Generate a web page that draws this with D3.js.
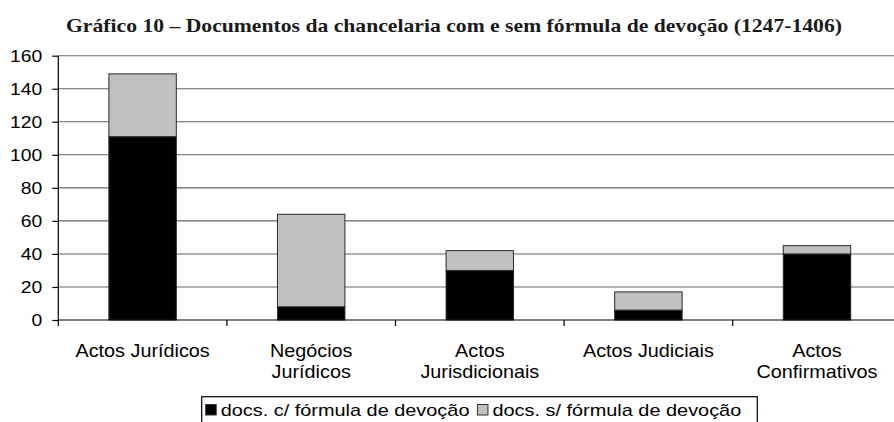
<!DOCTYPE html>
<html>
<head>
<meta charset="utf-8">
<script src="https://cdn.jsdelivr.net/npm/d3@7"></script>
<style>
  html, body { margin: 0; padding: 0; background: #fff; overflow: hidden; }
  svg { display: block; }
</style>
</head>
<body>
<svg id="chart" width="894" height="422"></svg>
<script>
// Chart data
const titleText = "Gráfico 10 – Documentos da chancelaria com e sem fórmula de devoção (1247-1406)";
const categories = ["Actos Jurídicos", "Negócios Jurídicos", "Actos Jurisdicionais", "Actos Judiciais", "Actos Confirmativos"];
const categoryLines = [["Actos Jurídicos"], ["Negócios", "Jurídicos"], ["Actos", "Jurisdicionais"], ["Actos Judiciais"], ["Actos", "Confirmativos"]];
const withFormula = [111, 8, 30, 6, 40];
const withoutFormula = [38, 56, 12, 11, 5];
const seriesNames = ["docs. c/ fórmula de devoção", "docs. s/ fórmula de devoção"];
const seriesKeys = ["com", "sem"];
const seriesColors = ["#000000", "#c0c0c0"];
const yTicks = [0, 20, 40, 60, 80, 100, 120, 140, 160];

const SANS = "Arial, 'Liberation Sans', sans-serif";
const SERIF = "'Times New Roman', 'Liberation Serif', serif";
const SX = 1.17; // horizontal widening applied to the labels

const svg = d3.select("#chart");

const rows = categories.map((c, i) => ({ cat: c, com: withFormula[i], sem: withoutFormula[i] }));

const x = d3.scaleBand().domain(categories).range([58.3, 901.3]).paddingInner(0.6).paddingOuter(0.3);
const y = d3.scaleLinear().domain([0, 160]).range([320, 55.7]);

// Title, stretched to span the page width
svg.append("text")
  .attr("x", 66).attr("y", 32)
  .attr("textLength", 776).attr("lengthAdjust", "spacingAndGlyphs")
  .attr("font-family", SERIF).attr("font-weight", "bold").attr("font-size", 19)
  .attr("fill", "#1a1a1a")
  .text(titleText);

// Horizontal gridlines
svg.append("g").selectAll("line").data(yTicks.filter(d => d > 0)).join("line")
  .attr("x1", 58.3).attr("x2", 894)
  .attr("y1", d => y(d)).attr("y2", d => y(d))
  .attr("stroke", "#666").attr("stroke-width", 1.1);

// Stacked bars
const stacked = d3.stack().keys(seriesKeys)(rows);
svg.append("g").selectAll("g").data(stacked).join("g")
  .attr("fill", (d, i) => seriesColors[i])
  .selectAll("rect").data(d => d).join("rect")
  .attr("x", d => x(d.data.cat))
  .attr("width", x.bandwidth())
  .attr("y", d => y(d[1]))
  .attr("height", d => y(d[0]) - y(d[1]))
  .attr("stroke", "#2a2a2a").attr("stroke-width", 1);

// Y axis
const yAxis = svg.append("g").attr("transform", "translate(58.3,0)")
  .call(d3.axisLeft(y).tickValues(yTicks).tickSize(6).tickPadding(0).tickFormat(d3.format("d")));
yAxis.select(".domain").attr("d", `M0,${y(160)}V${y(0) + 6}`).attr("stroke", "#000").attr("stroke-width", 1.2);
yAxis.selectAll(".tick line").attr("stroke", "#000").attr("stroke-width", 1.2);
yAxis.selectAll(".tick text")
  .attr("x", null).attr("dy", "0.36em")
  .attr("transform", `translate(-16,0) scale(${SX},1)`)
  .attr("font-family", SANS).attr("font-size", 16.5).attr("fill", "#000");

// X axis with ticks on category boundaries
const step = x.step();
const boundaries = categories.slice(0, -1).map(c => x(c) + x.bandwidth() + (step - x.bandwidth()) / 2);
const xAxis = svg.append("g").attr("transform", `translate(0,${y(0)})`);
xAxis.append("line").attr("x1", 58.3).attr("x2", 894).attr("y1", 0).attr("y2", 0)
  .attr("stroke", "#000").attr("stroke-width", 1.2);
xAxis.selectAll(".bt").data(boundaries).join("line").attr("class", "bt")
  .attr("x1", d => d).attr("x2", d => d).attr("y1", 0).attr("y2", 6)
  .attr("stroke", "#000").attr("stroke-width", 1.2);

// Category labels
const catG = svg.append("g");
categories.forEach((c, i) => {
  const cx = x(c) + x.bandwidth() / 2;
  categoryLines[i].forEach((line, j) => {
    catG.append("text")
      .attr("transform", `translate(${cx},${357 + j * 20.5}) scale(1.1,1)`)
      .attr("text-anchor", "middle")
      .attr("font-family", SANS).attr("font-size", 18).attr("fill", "#000")
      .text(line);
  });
});

// Legend
const legend = svg.append("g");
legend.append("rect").attr("x", 201.7).attr("y", 396.7).attr("width", 555.6).attr("height", 40)
  .attr("fill", "#fff").attr("stroke", "#000").attr("stroke-width", 1.2);
let lx = 205.7;
seriesNames.forEach((name, i) => {
  legend.append("rect").attr("x", lx).attr("y", 404.5).attr("width", 10.5).attr("height", 10.5)
    .attr("fill", seriesColors[i]).attr("stroke", "#333").attr("stroke-width", 1);
  const t = legend.append("text")
    .attr("transform", `translate(${lx + 15},416) scale(${SX},1)`)
    .attr("font-family", SANS).attr("font-size", 17).attr("fill", "#000")
    .text(name);
  lx += 15 + t.node().getComputedTextLength() * SX + 8;
});
</script>
</body>
</html>
